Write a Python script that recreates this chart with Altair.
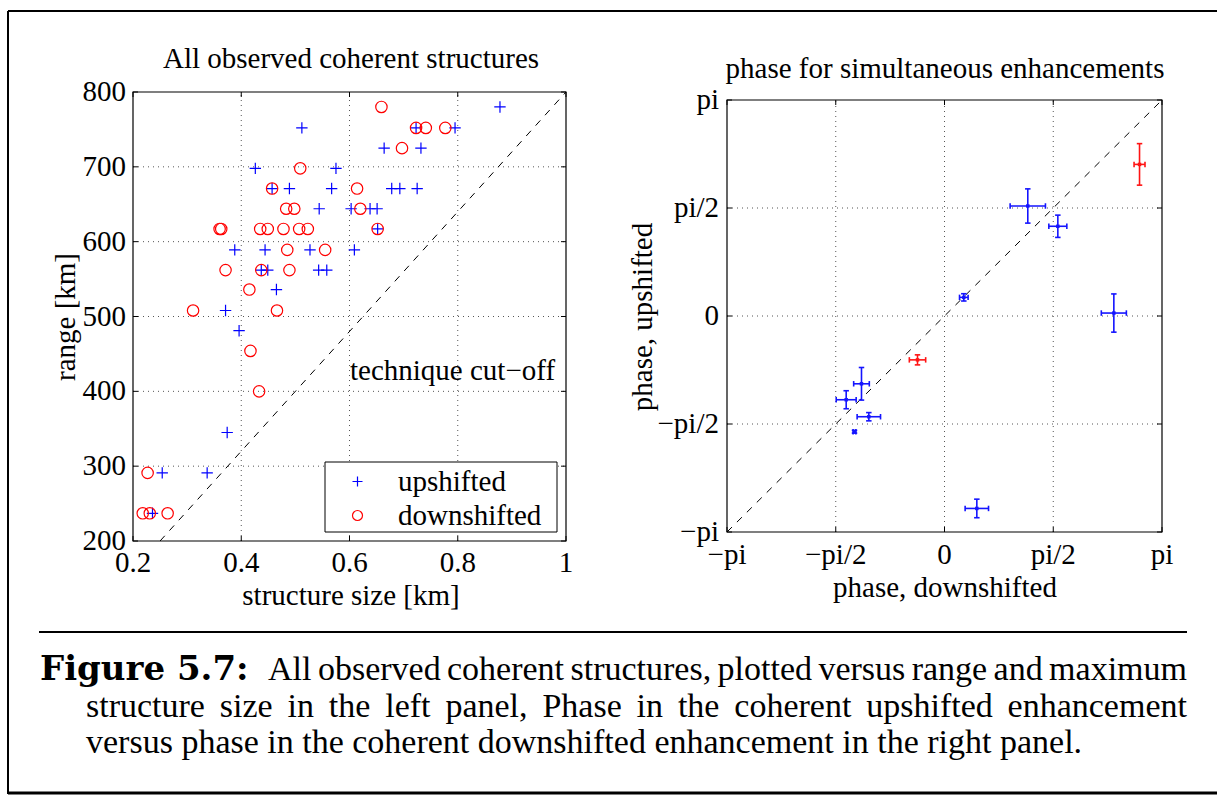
import math

import altair as alt
import pandas as pd

PI = math.pi
SERIF = "Liberation Serif"
PS = 29          # text size inside the figure panels
CS = 34          # caption text size
GRID = "#555555"
BLUE = "#0000ff"
RED = "#ff0000"
PLUS = "M-1,0L1,0M0,-1L0,1"

# ---------------- left panel: structure size vs range ----------------
up_size = [0.878, 0.512, 0.723, 0.795, 0.664, 0.732, 0.426, 0.575,
           0.457, 0.489, 0.567, 0.678, 0.693, 0.725,
           0.544, 0.603, 0.638, 0.651, 0.652,
           0.388, 0.444, 0.527, 0.609,
           0.437, 0.449, 0.543, 0.558,
           0.465, 0.371, 0.396, 0.374, 0.254, 0.337, 0.236]
up_range = [780, 752, 752, 752, 725, 725, 698, 698,
            671, 671, 671, 671, 671, 671,
            644, 644, 644, 644, 617,
            589, 589, 589, 589,
            562, 562, 562, 562,
            536, 508, 481, 345, 291, 291, 237]
down_size = [0.659, 0.723, 0.741, 0.777, 0.697, 0.509, 0.457, 0.614,
             0.483, 0.498, 0.620,
             0.360, 0.363, 0.435, 0.449, 0.478, 0.507, 0.523, 0.652,
             0.485, 0.555, 0.371, 0.437, 0.489,
             0.415, 0.311, 0.466, 0.417, 0.433,
             0.227, 0.218, 0.231, 0.264]
down_range = [780, 752, 752, 752, 725, 698, 671, 671,
              644, 644, 644,
              617, 617, 617, 617, 617, 617, 617, 617,
              589, 589, 562, 562, 562,
              536, 508, 508, 454, 400,
              291, 237, 237, 237]
cutoff_size = [0.25, 1.0]
cutoff_range = [200, 800]

size_ticks = [0.2, 0.4, 0.6, 0.8, 1.0]
size_labels = ["0.2", "0.4", "0.6", "0.8", "1"]
range_ticks = [200, 300, 400, 500, 600, 700, 800]
range_labels = ["200", "300", "400", "500", "600", "700", "800"]

# ---------------- right panel: phase pairs with error bars ----------------
a_down = [1.203, 1.637, 0.279, 2.446, -1.199, -1.420, -1.093, -1.300, 0.467]
a_up = [1.600, 1.305, 0.271, 0.043, -0.986, -1.218, -1.465, -1.683, -2.799]
a_down_err = [0.255, 0.130, 0.062, 0.181, 0.113, 0.144, 0.169, 0.020, 0.169]
a_up_err = [0.249, 0.162, 0.053, 0.278, 0.237, 0.131, 0.060, 0.020, 0.135]
b_down = [2.817, -0.390]
b_up = [2.205, -0.638]
b_down_err = [0.079, 0.118]
b_up_err = [0.302, 0.073]

phase_ticks = [-PI, -PI / 2, 0.0, PI / 2, PI]
phase_labels = ["\u2212pi", "\u2212pi/2", "0", "pi/2", "pi"]
diagonal = [-PI, PI]

# ---------------- caption ----------------
caption_label = "Figure 5.7:"
caption_lines = [
    "All observed coherent structures, plotted versus range and maximum",
    "structure size in the left panel, Phase in the coherent upshifted enhancement",
    "versus phase in the coherent downshifted enhancement in the right panel.",
]

# advance widths (per 1000 em) of the serif face, used to justify caption lines
ADV = {
    "a": 444, "b": 500, "c": 444, "d": 500, "e": 444, "f": 333, "g": 500,
    "h": 500, "i": 278, "j": 278, "k": 500, "l": 278, "m": 778, "n": 500,
    "o": 500, "p": 500, "q": 500, "r": 333, "s": 389, "t": 278, "u": 500,
    "v": 500, "w": 722, "x": 500, "y": 500, "z": 444, "A": 722, "P": 556,
    ",": 250, ".": 250, " ": 250,
}


def text_width(s, size):
    return sum(ADV.get(c, 500) for c in s) / 1000.0 * size


def lin(domain, rng):
    return alt.Scale(domain=domain, range=rng, zero=False, nice=False)


LX = lin([0.2, 1.0], [133, 566])
LY = lin([200, 800], [541, 92])
RX = lin([-PI, PI], [727, 1162])
RY = lin([-PI, PI], [532, 100])


def X(field, scale):
    return alt.X(field, type="quantitative", scale=scale, axis=None)


def Y(field, scale):
    return alt.Y(field, type="quantitative", scale=scale, axis=None)


def text_layer(text, x, y, size=PS, align="center", angle=0, font=SERIF,
               weight="normal"):
    return alt.Chart(pd.DataFrame({"t": [text]})).mark_text(
        font=font, fontSize=size, align=align, baseline="alphabetic",
        angle=angle, fontWeight=weight, color="black"
    ).encode(x=alt.value(x), y=alt.value(y), text="t:N")


def justified(line, x0, x1, y, size):
    words = line.split(" ")
    widths = [text_width(w, size) for w in words]
    gap = (x1 - x0 - sum(widths)) / (len(words) - 1)
    out, x = [], x0
    for w, wd in zip(words, widths):
        out.append(text_layer(w, round(x, 1), y, size=size, align="left"))
        x += wd + gap
    return out


def panel_frame(xs, ys, xticks, yticks):
    xdom = [xticks[0], xticks[-1]]
    ydom = [yticks[0], yticks[-1]]
    out = []
    gx = pd.DataFrame({"v": xticks[1:-1], "lo": ydom[0], "hi": ydom[1]})
    out.append(alt.Chart(gx).mark_rule(color=GRID, strokeWidth=1, strokeDash=[1, 4])
               .encode(x=X("v", xs), y=Y("lo", ys), y2="hi"))
    gy = pd.DataFrame({"v": yticks[1:-1], "lo": xdom[0], "hi": xdom[1]})
    out.append(alt.Chart(gy).mark_rule(color=GRID, strokeWidth=1, strokeDash=[1, 4])
               .encode(y=Y("v", ys), x=X("lo", xs), x2="hi"))
    box = pd.DataFrame({"x0": [xdom[0]], "x1": [xdom[1]],
                        "y0": [ydom[0]], "y1": [ydom[1]]})
    out.append(alt.Chart(box).mark_rect(fillOpacity=0, stroke="black", strokeWidth=1.2)
               .encode(x=X("x0", xs), x2="x1", y=Y("y0", ys), y2="y1"))
    # inward ticks on all four sides
    specs = [
        (xticks, ydom[0], "M0,0L0,-1", True),
        (xticks, ydom[1], "M0,0L0,1", True),
        (yticks, xdom[0], "M0,0L1,0", False),
        (yticks, xdom[1], "M0,0L-1,0", False),
    ]
    for vals, at, shape, horizontal in specs:
        df = pd.DataFrame({"v": vals, "at": at})
        enc = (dict(x=X("v", xs), y=Y("at", ys)) if horizontal
               else dict(x=X("at", xs), y=Y("v", ys)))
        out.append(alt.Chart(df).mark_point(shape=shape, size=100, filled=False,
                                            color="black", strokeWidth=1, opacity=1)
                   .encode(**enc))
    return out


def tick_labels(xs, ys, xticks, xlabels, x_base, yticks, ylabels, y_right):
    xdf = pd.DataFrame({"v": xticks, "label": xlabels})
    ydf = pd.DataFrame({"v": yticks, "label": ylabels})
    return [
        alt.Chart(xdf).mark_text(font=SERIF, fontSize=PS, align="center",
                                 baseline="alphabetic", color="black")
        .encode(x=X("v", xs), y=alt.value(x_base), text="label:N"),
        alt.Chart(ydf).mark_text(font=SERIF, fontSize=PS, align="right",
                                 baseline="middle", color="black")
        .encode(x=alt.value(y_right), y=Y("v", ys), text="label:N"),
    ]


def box_at(x0, x1, y0, y1, width=1):
    return alt.Chart(pd.DataFrame({"k": [0]})).mark_rect(
        fill="white", stroke="black", strokeWidth=width
    ).encode(x=alt.value(x0), x2=alt.value(x1), y=alt.value(y0), y2=alt.value(y1))


layers = []

# ---- left panel ----
layers += panel_frame(LX, LY, size_ticks, range_ticks)
cut_df = pd.DataFrame({"s": cutoff_size, "r": cutoff_range})
layers.append(alt.Chart(cut_df).mark_line(color="black", strokeWidth=1, strokeDash=[7, 7])
              .encode(x=X("s", LX), y=Y("r", LY)))

left_df = pd.concat([
    pd.DataFrame({"size": up_size, "range": up_range, "kind": "upshifted"}),
    pd.DataFrame({"size": down_size, "range": down_range, "kind": "downshifted"}),
], ignore_index=True)
kinds = ["upshifted", "downshifted"]
legend = alt.Legend(
    title=None, orient="none", legendX=325, legendY=467, direction="vertical",
    padding=0, labelFont=SERIF, labelFontSize=PS, labelColor="black", labelLimit=400,
    symbolSize=100, symbolStrokeWidth=1.2, symbolOffset=18, labelOffset=26,
    rowPadding=4,
)
layers.append(
    alt.Chart(left_df).mark_point(filled=False, size=130, strokeWidth=1.2, opacity=1)
    .encode(
        x=X("size", LX), y=Y("range", LY),
        color=alt.Color("kind:N", scale=alt.Scale(domain=kinds, range=[BLUE, RED]),
                        legend=legend),
        shape=alt.Shape("kind:N", scale=alt.Scale(domain=kinds, range=[PLUS, "circle"]),
                        legend=legend),
    )
)
# legend frame
layers.append(box_at(325, 557, 462, 532))
layers += tick_labels(LX, LY, size_ticks, size_labels, 572, range_ticks, range_labels, 126)
layers.append(text_layer("All observed coherent structures", 351, 68))
layers.append(text_layer("structure size [km]", 351, 605))
layers.append(text_layer("range [km]", 75, 317, angle=270))
layers.append(text_layer("technique cut\u2212off", 350, 380, align="left"))

# ---- right panel ----
layers += panel_frame(RX, RY, phase_ticks, phase_ticks)
diag_df = pd.DataFrame({"d": diagonal, "u": diagonal})
layers.append(alt.Chart(diag_df).mark_line(color="black", strokeWidth=1, strokeDash=[7, 7])
              .encode(x=X("d", RX), y=Y("u", RY)))

phase_df = pd.concat([
    pd.DataFrame({"down": a_down, "up": a_up, "de": a_down_err, "ue": a_up_err, "grp": "a"}),
    pd.DataFrame({"down": b_down, "up": b_up, "de": b_down_err, "ue": b_up_err, "grp": "b"}),
], ignore_index=True)
phase_df["dlo"] = phase_df["down"] - phase_df["de"]
phase_df["dhi"] = phase_df["down"] + phase_df["de"]
phase_df["ulo"] = phase_df["up"] - phase_df["ue"]
phase_df["uhi"] = phase_df["up"] + phase_df["ue"]

grp_color = alt.Color("grp:N", scale=alt.Scale(domain=["a", "b"], range=["#1414ff", "#ff1414"]),
                      legend=None)
base = alt.Chart(phase_df)
layers.append(base.mark_rule(strokeWidth=1.6)
              .encode(x=X("dlo", RX), x2="dhi", y=Y("up", RY), color=grp_color))
layers.append(base.mark_rule(strokeWidth=1.6)
              .encode(x=X("down", RX), y=Y("ulo", RY), y2="uhi", color=grp_color))
for fx in ["dlo", "dhi"]:
    layers.append(base.mark_point(shape="M0,-1L0,1", size=30, filled=False,
                                  strokeWidth=1.6, opacity=1)
                  .encode(x=X(fx, RX), y=Y("up", RY), color=grp_color))
for fy in ["ulo", "uhi"]:
    layers.append(base.mark_point(shape="M-1,0L1,0", size=30, filled=False,
                                  strokeWidth=1.6, opacity=1)
                  .encode(x=X("down", RX), y=Y(fy, RY), color=grp_color))
layers.append(base.mark_square(size=12, opacity=1)
              .encode(x=X("down", RX), y=Y("up", RY), color=grp_color))

layers += tick_labels(RX, RY, phase_ticks, phase_labels, 564, phase_ticks, phase_labels, 719)
layers.append(text_layer("phase for simultaneous enhancements", 945, 78))
layers.append(text_layer("phase, downshifted", 945, 597))
layers.append(text_layer("phase, upshifted", 652, 317, angle=270))

# ---- page frame, separator and caption ----
frame_lines = [
    dict(x=alt.value(8), x2=alt.value(8), y=alt.value(11), y2=alt.value(794), w=2),
    dict(x=alt.value(8), x2=alt.value(1217), y=alt.value(11), y2=alt.value(11), w=2),
    dict(x=alt.value(8), x2=alt.value(1217), y=alt.value(793), y2=alt.value(793), w=3),
    dict(x=alt.value(39), x2=alt.value(1187), y=alt.value(632), y2=alt.value(632), w=2),
]
for fl in frame_lines:
    w = fl.pop("w")
    layers.append(alt.Chart(pd.DataFrame({"k": [0]})).mark_rule(color="black", strokeWidth=w)
                  .encode(**fl))

layers.append(text_layer(caption_label, 40, 680, size=34, align="left",
                         font="DejaVu Serif", weight="bold"))
layers += justified(caption_lines[0], 268, 1187, 680, CS)
layers += justified(caption_lines[1], 86, 1187, 717, CS)
layers.append(text_layer(caption_lines[2], 86, 753, size=CS, align="left"))

chart = (
    alt.layer(*layers)
    .resolve_scale(x="independent", y="independent", color="independent",
                   shape="independent")
    .properties(width=1217, height=797, padding=0,
                autosize=alt.AutoSizeParams(type="none"), background="white")
    .configure_view(strokeWidth=0)
)

chart.save("out.html", embed_options={"renderer": "svg", "actions": False})
